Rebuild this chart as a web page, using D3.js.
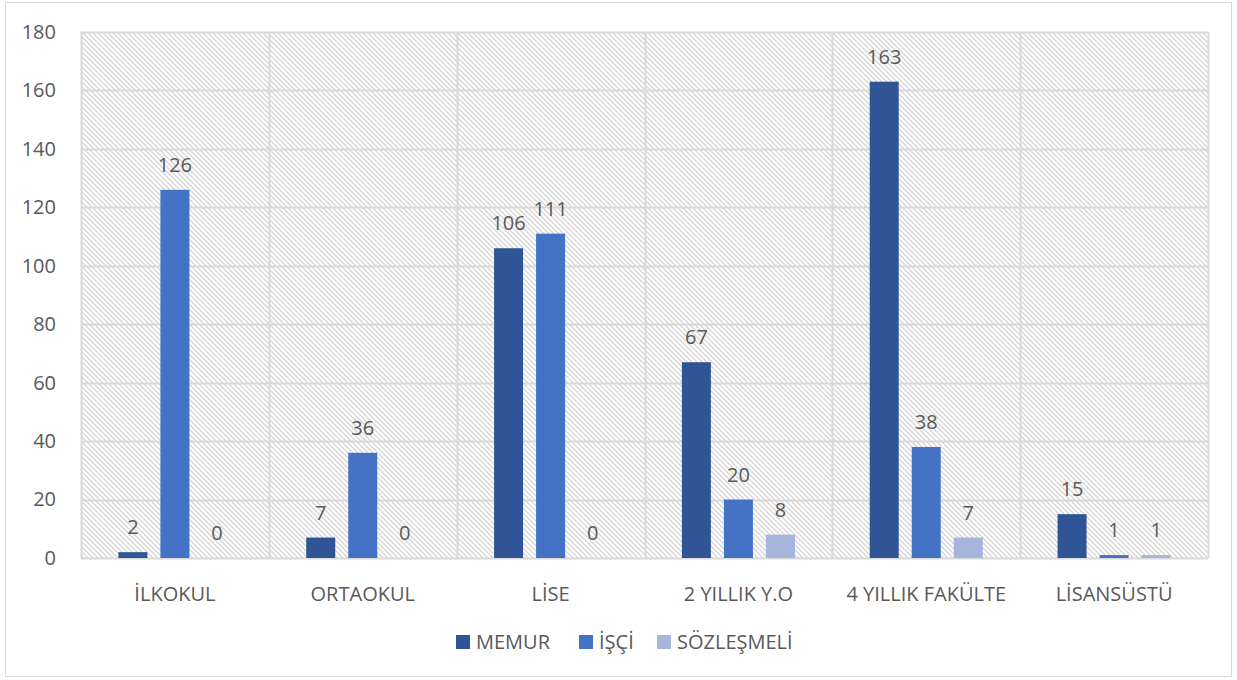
<!DOCTYPE html>
<html>
<head>
<meta charset="utf-8">
<script src="https://cdn.jsdelivr.net/npm/d3@7"></script>
<style>
  body { margin: 0; background: #fff; }
  text { font-family: "Open Sans", "Noto Sans", sans-serif; fill: #595959; }
</style>
</head>
<body>
<div id="main"></div>
<script>
var width = 1237,
    height = 680;

var categories = ["İLKOKUL", "ORTAOKUL", "LİSE", "2 YILLIK Y.O", "4 YILLIK FAKÜLTE", "LİSANSÜSTÜ"];
var seriesNames = ["MEMUR", "İŞÇİ", "SÖZLEŞMELİ"];
var memur = [2, 7, 106, 67, 163, 15];
var isci = [126, 36, 111, 20, 38, 1];
var sozlesmeli = [0, 0, 0, 8, 7, 1];
var yTicks = [0, 20, 40, 60, 80, 100, 120, 140, 160, 180];
var colors = ["#2f5597", "#4472c4", "#a5b5dc"];

var margin = {left: 81, right: 29, top: 32, bottom: 122};

var svg = d3.select("#main").append("svg")
    .attr("width", width)
    .attr("height", height);

// outer chart border
svg.append("rect")
    .attr("x", 5.5).attr("y", 2.5)
    .attr("width", 1226).attr("height", 674)
    .attr("fill", "#fff")
    .attr("stroke", "#d9d9d9");

var defs = svg.append("defs");
var pat = defs.append("pattern")
    .attr("id", "hatch")
    .attr("patternUnits", "userSpaceOnUse")
    .attr("width", 5).attr("height", 5);
pat.append("rect").attr("width", 5).attr("height", 5).attr("fill", "#fff");
pat.append("path")
    .attr("d", "M-1,-1 L6,6 M-1,4 L1,6 M4,-1 L6,1")
    .attr("stroke", "#d6d6d6")
    .attr("stroke-width", 1.3);

var x = d3.scaleBand()
    .domain(categories)
    .range([margin.left, width - margin.right]);

var xs = d3.scaleBand()
    .domain(seriesNames)
    .range([0, x.bandwidth()])
    .paddingInner(0.31)
    .paddingOuter(0.89);

var y = d3.scaleLinear()
    .domain([0, 180])
    .range([height - margin.bottom, margin.top]);

// hatched plot area
svg.append("rect")
    .attr("x", margin.left).attr("y", margin.top)
    .attr("width", width - margin.left - margin.right)
    .attr("height", y(0) - margin.top)
    .attr("fill", "url(#hatch)");

// horizontal gridlines
svg.append("g")
    .selectAll("line")
    .data(yTicks)
    .enter().append("line")
    .attr("x1", margin.left).attr("x2", width - margin.right)
    .attr("y1", function(d) { return Math.round(y(d)) + 0.5; })
    .attr("y2", function(d) { return Math.round(y(d)) + 0.5; })
    .attr("stroke", "#d9d9d9")
    .attr("stroke-width", 2);

// vertical category separators
var edges = categories.map(function(c) { return x(c); }).concat([width - margin.right]);
svg.append("g")
    .selectAll("line")
    .data(edges)
    .enter().append("line")
    .attr("x1", function(d) { return Math.round(d) + 0.5; })
    .attr("x2", function(d) { return Math.round(d) + 0.5; })
    .attr("y1", margin.top).attr("y2", y(0))
    .attr("stroke", "#d9d9d9")
    .attr("stroke-width", 2);

// y axis labels
var yAxis = d3.axisLeft(y).tickValues(yTicks).tickSize(0).tickPadding(25);
var gy = svg.append("g")
    .attr("transform", "translate(" + margin.left + ",0)")
    .call(yAxis);
gy.select(".domain").remove();
gy.selectAll("text")
    .style("font-size", "20px")
    .attr("fill", "#595959")
    .attr("text-anchor", "end");

// x axis labels
var xAxis = d3.axisBottom(x).tickSize(0).tickPadding(29);
var gx = svg.append("g")
    .attr("transform", "translate(0," + y(0) + ")")
    .call(xAxis);
gx.select(".domain").remove();
gx.selectAll("text")
    .style("font-size", "20px")
    .attr("fill", "#595959");

var seriesData = [memur, isci, sozlesmeli];

seriesData.forEach(function(vals, si) {
    var g = svg.append("g");
    var data = vals.map(function(v, i) { return {cat: categories[i], v: v}; });
    g.selectAll("rect")
        .data(data)
        .enter().append("rect")
        .attr("x", function(d) { return x(d.cat) + xs(seriesNames[si]); })
        .attr("width", xs.bandwidth())
        .attr("y", function(d) { return y(d.v); })
        .attr("height", function(d) { return y(0) - y(d.v); })
        .attr("fill", colors[si]);
    g.selectAll("text")
        .data(data)
        .enter().append("text")
        .attr("x", function(d) { return x(d.cat) + xs(seriesNames[si]) + xs.bandwidth() / 2; })
        .attr("y", function(d) { return y(d.v) - 18; })
        .attr("text-anchor", "middle")
        .style("font-size", "20px")
        .text(function(d) { return d.v; });
});

// legend
var legendX = [456, 579, 657];
var legend = svg.append("g");
seriesNames.forEach(function(name, i) {
    legend.append("rect")
        .attr("x", legendX[i]).attr("y", 635)
        .attr("width", 14).attr("height", 14)
        .attr("fill", colors[i]);
    legend.append("text")
        .attr("x", legendX[i] + 20).attr("y", 649)
        .style("font-size", "20px")
        .text(name);
});
</script>
</body>
</html>
